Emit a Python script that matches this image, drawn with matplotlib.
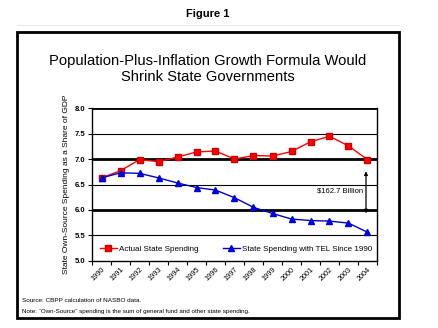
import matplotlib
matplotlib.use("Agg")
import matplotlib.pyplot as plt
from matplotlib.patches import Rectangle
from matplotlib.lines import Line2D

plt.rcParams['font.family'] = ['Liberation Sans', 'DejaVu Sans']

years = ["1990", "1991", "1992", "1993", "1994", "1995", "1996", "1997",
         "1998", "1999", "2000", "2001", "2002", "2003", "2004"]
actual = [6.63, 6.77, 6.99, 6.95, 7.04, 7.14, 7.16, 7.00, 7.07, 7.06,
          7.15, 7.34, 7.45, 7.26, 6.99]
tel = [6.63, 6.73, 6.72, 6.63, 6.53, 6.44, 6.39, 6.24, 6.05, 5.93,
       5.82, 5.79, 5.78, 5.74, 5.56]
yticks = [5.0, 5.5, 6.0, 6.5, 7.0, 7.5, 8.0]
gap_label = "$162.7 Billion"

W, H = 439, 328
fig = plt.figure(figsize=(W / 100, H / 100), dpi=100)

def fx(px):
    return px / W

def fy(py):
    return 1 - py / H

# Outer frame
fig.patches.append(Rectangle((fx(17), fy(318)), fx(399) - fx(17), fy(32) - fy(318),
                             transform=fig.transFigure, fill=False,
                             edgecolor='black', linewidth=2.0))
fig.lines.append(Line2D([fx(17), fx(399)], [fy(25), fy(25)], transform=fig.transFigure,
                        color='#e6e6e6', linewidth=0.6))

fig.text(fx(208), fy(14), "Figure 1", ha='center', va='center',
         fontsize=8, fontweight='bold')
fig.text(fx(208), fy(69), "Population-Plus-Inflation Growth Formula Would\nShrink State Governments",
         ha='center', va='center', fontsize=10.6, linespacing=1.2)

ax = fig.add_axes([fx(92), fy(260.7), fx(377) - fx(92), fy(108.3) - fy(260.7)])
x = list(range(len(years)))
ax.set_xlim(-0.5, len(years) - 0.5)
ax.set_ylim(5.0, 8.0)

for yv in yticks[1:]:
    thick = abs(yv - round(yv)) < 1e-9
    ax.axhline(yv, color='black', linewidth=2.0 if thick else 0.8, zorder=1)

ax.plot(x, actual, color='#ff0000', marker='s', markersize=4.2,
        markerfacecolor='#ff0000', markeredgecolor='#cc0000', linewidth=1.0,
        label="Actual State Spending", zorder=3)
ax.plot(x, tel, color='#0000cc', marker='^', markersize=4.5,
        markerfacecolor='#0000ff', markeredgecolor='#0000cc', linewidth=1.0,
        label="State Spending with TEL Since 1990", zorder=3)

ax.set_yticks(yticks)
ax.set_yticklabels([f"{v:.1f}" for v in yticks], fontsize=5.5, fontweight='bold')
ax.set_xticks(x)
ax.set_xticklabels(years, rotation=45, ha='right', va='top', fontsize=5.2,
                   rotation_mode='anchor')
ax.set_xticks([i - 0.5 for i in range(len(years) + 1)], minor=True)
ax.tick_params(axis='x', which='major', length=0, pad=4)
ax.tick_params(axis='x', which='minor', length=3, width=0.8, direction='out')
ax.tick_params(axis='y', length=3, width=0.8, direction='out', pad=2)

for side in ['left', 'bottom', 'right', 'top']:
    ax.spines[side].set_linewidth(1.0)
ax.spines['top'].set_visible(False)

ax.set_ylabel("State Own-Source Spending as a Share of GDP", fontsize=6.0, labelpad=3)

# Gap annotation
xa = len(years) - 1 - 0.08
ax.annotate("", xy=(xa, 6.76), xytext=(xa, 5.93),
            arrowprops=dict(arrowstyle='<|-|>', color='black', lw=0.9,
                            mutation_scale=5, shrinkA=0, shrinkB=0))
ax.text(xa - 0.15, 6.37, gap_label, ha='right', va='center', fontsize=5.5)

leg = ax.legend(loc='center', bbox_to_anchor=(0.505, 0.075), ncol=2, frameon=False,
                fontsize=5.8, handlelength=2.2, columnspacing=3.0, handletextpad=0.2)

fig.text(fx(22), fy(300), "Source: CBPP calculation of NASBO data.", fontsize=4.6,
         ha='left', va='center')
fig.text(fx(22), fy(311.5), "Note: \u201cOwn-Source\u201d spending is the sum of general fund and other state spending.",
         fontsize=4.5, ha='left', va='center')

fig.savefig("out.png", dpi=100)
